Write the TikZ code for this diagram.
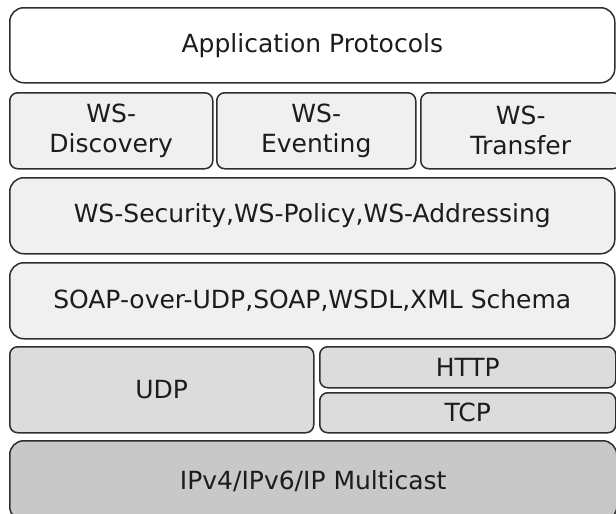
\documentclass[tikz,border=0pt]{standalone}
\usepackage{fontspec}
\setmainfont{DejaVu Sans}
\definecolor{edge}{HTML}{2E2E2E}
\definecolor{txt}{HTML}{1C1C1C}
\definecolor{fillA}{HTML}{FFFFFF}
\definecolor{fillB}{HTML}{F0F0F0}
\definecolor{fillC}{HTML}{DCDCDC}
\definecolor{fillD}{HTML}{C8C8C8}
\tikzset{
  layer/.style={draw=edge, line width=1.5pt, rounded corners=14pt, anchor=north west,
    inner sep=0pt, align=center, text=txt,
    font=\fontsize{25}{30}\selectfont},
  small/.style={layer, rounded corners=8pt},
}
\begin{document}
\begin{tikzpicture}[x=1pt,y=-1pt]
\useasboundingbox (0,0) rectangle (616,514);
\node[layer, fill=fillA, minimum width=605pt, minimum height=75pt] (app) at (9,7) {Application Protocols};
\node[small, fill=fillB, minimum width=203pt, minimum height=76pt] (disc) at (9,92) {WS-\\Discovery};
\node[small, fill=fillB, minimum width=199pt, minimum height=76pt] (event) at (216,92) {WS-\\Eventing};
\node[small, fill=fillB, minimum width=200pt, minimum height=76pt, text width=192pt] (trans) at (420,92) {WS-\\Transfer};
\node[layer, fill=fillB, minimum width=605pt, minimum height=76pt] (sec) at (9,177) {WS-Security,WS-Policy,WS-Addressing};
\node[layer, fill=fillB, minimum width=605pt, minimum height=76pt] (soap) at (9,262) {SOAP-over-UDP,SOAP,WSDL,XML Schema};
\node[small, fill=fillC, minimum width=304pt, minimum height=86pt] (udp) at (9,346) {UDP};
\node[small, fill=fillC, minimum width=296pt, minimum height=41pt, text width=292pt] (http) at (319,346) {HTTP};
\node[small, fill=fillC, minimum width=296pt, minimum height=40pt, text width=292pt] (tcp) at (319,392) {TCP};
\node[layer, fill=fillD, minimum width=607pt, minimum height=80pt] (ip) at (9,440) {IPv4/IPv6/IP Multicast};
\end{tikzpicture}
\end{document}
